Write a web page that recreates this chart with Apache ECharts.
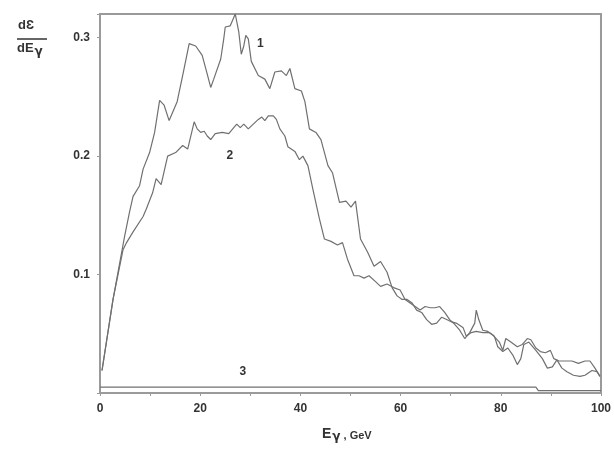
<!DOCTYPE html>
<html>
<head>
<meta charset="utf-8">
<script src="https://cdn.jsdelivr.net/npm/echarts@6/dist/echarts.min.js"></script>
<style>
  html, body { margin: 0; padding: 0; background: #fff; }
  #chart { width: 614px; height: 451px; }
</style>
</head>
<body>
<div id="chart"></div>
<script>
// curve 1: [E (GeV), dE/dEγ]
var curve1 = [
  [0.4, 0.019], [2.6, 0.079], [4.6, 0.125], [4.9, 0.132], [5.9, 0.153], [6.6, 0.166],
  [7.9, 0.175], [8.6, 0.189], [9.9, 0.203], [10.9, 0.220], [11.9, 0.247], [12.8, 0.243],
  [13.8, 0.230], [15.4, 0.246], [16.6, 0.270], [17.8, 0.295], [19.1, 0.293], [20.4, 0.285],
  [21.3, 0.271], [22.1, 0.258], [22.7, 0.265], [24.1, 0.282], [24.7, 0.299], [25.0, 0.309],
  [26.0, 0.310], [27.0, 0.320], [27.7, 0.305], [28.2, 0.286], [28.7, 0.293], [29.1, 0.302],
  [29.6, 0.299], [30.2, 0.280], [31.6, 0.268], [32.9, 0.265], [33.9, 0.257], [34.9, 0.271],
  [36.2, 0.272], [37.2, 0.268], [37.9, 0.274], [38.9, 0.257], [40.2, 0.255], [40.9, 0.246],
  [41.8, 0.223], [43.1, 0.220], [44.1, 0.214], [45.5, 0.192], [46.4, 0.186], [47.8, 0.161],
  [49.1, 0.162], [50.1, 0.157], [51.0, 0.162], [52.0, 0.130], [53.4, 0.119], [54.7, 0.107],
  [56.0, 0.111], [57.3, 0.102], [58.3, 0.089], [59.3, 0.082], [60.3, 0.079], [61.3, 0.079],
  [62.3, 0.076], [63.2, 0.070], [64.2, 0.068], [65.2, 0.062], [66.2, 0.058], [67.2, 0.059],
  [68.2, 0.064], [69.2, 0.062], [70.2, 0.060], [71.1, 0.059], [72.5, 0.055], [73.1, 0.048],
  [74.1, 0.051], [75.1, 0.052], [76.4, 0.051], [77.7, 0.051], [78.7, 0.048], [79.4, 0.039],
  [80.4, 0.035], [81.4, 0.038], [82.4, 0.032], [83.3, 0.024], [84.0, 0.029], [84.6, 0.041],
  [85.6, 0.043], [87.0, 0.036], [88.3, 0.029], [89.3, 0.021], [90.3, 0.022], [91.2, 0.028],
  [92.2, 0.021], [93.2, 0.018], [94.5, 0.015], [95.8, 0.014], [96.8, 0.015], [98.2, 0.019],
  [99.2, 0.018], [99.8, 0.014]
];
// curve 2
var curve2 = [
  [0.4, 0.019], [2.6, 0.079], [4.6, 0.121], [5.3, 0.127], [6.6, 0.136], [8.6, 0.149],
  [9.2, 0.155], [10.5, 0.169], [11.2, 0.181], [12.2, 0.176], [13.5, 0.200], [15.1, 0.203],
  [16.5, 0.209], [17.5, 0.206], [18.8, 0.229], [19.4, 0.223], [20.1, 0.220], [20.8, 0.221],
  [21.4, 0.217], [22.1, 0.214], [23.0, 0.219], [24.4, 0.220], [25.7, 0.219], [26.7, 0.224],
  [27.3, 0.227], [28.0, 0.224], [28.7, 0.227], [29.6, 0.223], [30.6, 0.227], [31.6, 0.231],
  [32.3, 0.233], [32.9, 0.230], [33.6, 0.234], [34.6, 0.234], [35.2, 0.231], [35.9, 0.223],
  [36.9, 0.217], [37.5, 0.208], [38.9, 0.204], [39.8, 0.197], [40.5, 0.200], [41.5, 0.192],
  [42.5, 0.172], [43.8, 0.147], [44.8, 0.130], [46.1, 0.128], [47.4, 0.125], [48.4, 0.127],
  [49.4, 0.113], [50.7, 0.099], [51.7, 0.099], [52.7, 0.097], [53.7, 0.099], [55.0, 0.094],
  [56.0, 0.090], [57.3, 0.092], [58.6, 0.089], [59.9, 0.087], [60.9, 0.079], [61.9, 0.076],
  [62.9, 0.073], [63.9, 0.070], [64.9, 0.073], [65.9, 0.072], [66.9, 0.072], [67.8, 0.073],
  [68.8, 0.068], [69.8, 0.062], [70.8, 0.058], [71.8, 0.053], [72.8, 0.046], [73.8, 0.051],
  [74.8, 0.059], [75.1, 0.070], [75.6, 0.062], [76.4, 0.053], [77.4, 0.052], [78.4, 0.049],
  [79.7, 0.043], [80.4, 0.036], [81.0, 0.046], [82.0, 0.043], [83.3, 0.039], [84.3, 0.041],
  [85.3, 0.046], [86.0, 0.045], [87.0, 0.038], [87.9, 0.035], [88.9, 0.034], [89.9, 0.036],
  [90.6, 0.029], [91.6, 0.027], [92.9, 0.027], [94.2, 0.027], [95.5, 0.025], [96.8, 0.027],
  [97.8, 0.027], [98.8, 0.021], [99.8, 0.014]
];
// curve 3 (almost flat near zero)
var curve3 = [[0, 0.005], [87, 0.005], [87.5, 0.002], [100, 0.002]];

var xTicks = [0, 20, 40, 60, 80, 100];
var yTicks = [0.1, 0.2, 0.3];
// curve number labels: [text, E, value]
var curveLabels = [['1', 32, 0.295], ['2', 25.9, 0.2], ['3', 28.5, 0.018]];

var lineColor = '#707070';
var frameColor = '#9a9a9a';
var txt = '#333';

var chart = echarts.init(document.getElementById('chart'));

function lineSeries(d) {
  return {
    type: 'line', data: d, showSymbol: false, silent: true,
    lineStyle: { color: lineColor, width: 1.2 }
  };
}

chart.setOption({
  animation: false,
  grid: { left: 100, right: 8, top: 14, bottom: 58, show: true, borderColor: frameColor, borderWidth: 2 },
  xAxis: {
    type: 'value', min: 0, max: 100, interval: 10,
    axisLine: { show: true, lineStyle: { color: frameColor, width: 2 } },
    axisTick: { show: true, inside: false, length: 3, lineStyle: { color: frameColor } },
    splitLine: { show: false },
    axisLabel: {
      color: txt, fontFamily: 'Liberation Sans', fontWeight: 'bold', fontSize: 12, margin: 10,
      formatter: function (v) { return xTicks.indexOf(v) >= 0 ? String(v) : ''; }
    }
  },
  yAxis: {
    type: 'value', min: 0, max: 0.32, interval: 0.1,
    axisLine: { show: true, lineStyle: { color: frameColor, width: 2 } },
    axisTick: { show: true, inside: false, length: 3, lineStyle: { color: frameColor } },
    splitLine: { show: false },
    axisLabel: {
      color: txt, fontFamily: 'Liberation Sans', fontWeight: 'bold', fontSize: 12, margin: 10,
      formatter: function (v) {
        for (var i = 0; i < yTicks.length; i++) {
          if (Math.abs(v - yTicks[i]) < 1e-6) return yTicks[i].toFixed(1);
        }
        return '';
      }
    }
  },
  series: [lineSeries(curve1), lineSeries(curve2), lineSeries(curve3)]
});

// texts: axis names and curve numbers
var g = [
  { type: 'text', left: 18, top: 19, style: { text: 'dƐ', font: 'bold 13px "Liberation Sans"', fill: txt } },
  { type: 'line', shape: { x1: 17, y1: 39, x2: 47, y2: 39 }, style: { stroke: txt, lineWidth: 1.5 } },
  { type: 'text', left: 17, top: 42, style: {
      text: '{a|dE}{b|γ}',
      rich: {
        a: { font: 'bold 13px "Liberation Sans"', fill: txt },
        b: { font: 'bold 12px "DejaVu Sans"', fill: txt, padding: [6, 0, 0, 1] }
      } } },
  { type: 'text', left: 322, top: 427, style: {
      text: '{a|E}{b|γ}{c| , GeV}',
      rich: {
        a: { font: 'bold 14px "Liberation Sans"', fill: txt },
        b: { font: 'bold 12px "DejaVu Sans"', fill: txt, padding: [6, 0, 0, 1] },
        c: { font: 'bold 11px "Liberation Sans"', fill: txt, padding: [4, 0, 0, 0] }
      } } }
];
curveLabels.forEach(function (c) {
  var p = chart.convertToPixel({ gridIndex: 0 }, [c[1], c[2]]);
  g.push({ type: 'text', x: p[0], y: p[1], style: {
    text: c[0], font: 'bold 12px "Liberation Sans"', fill: txt, align: 'center', verticalAlign: 'middle' } });
});
chart.setOption({ graphic: g });
</script>
</body>
</html>
